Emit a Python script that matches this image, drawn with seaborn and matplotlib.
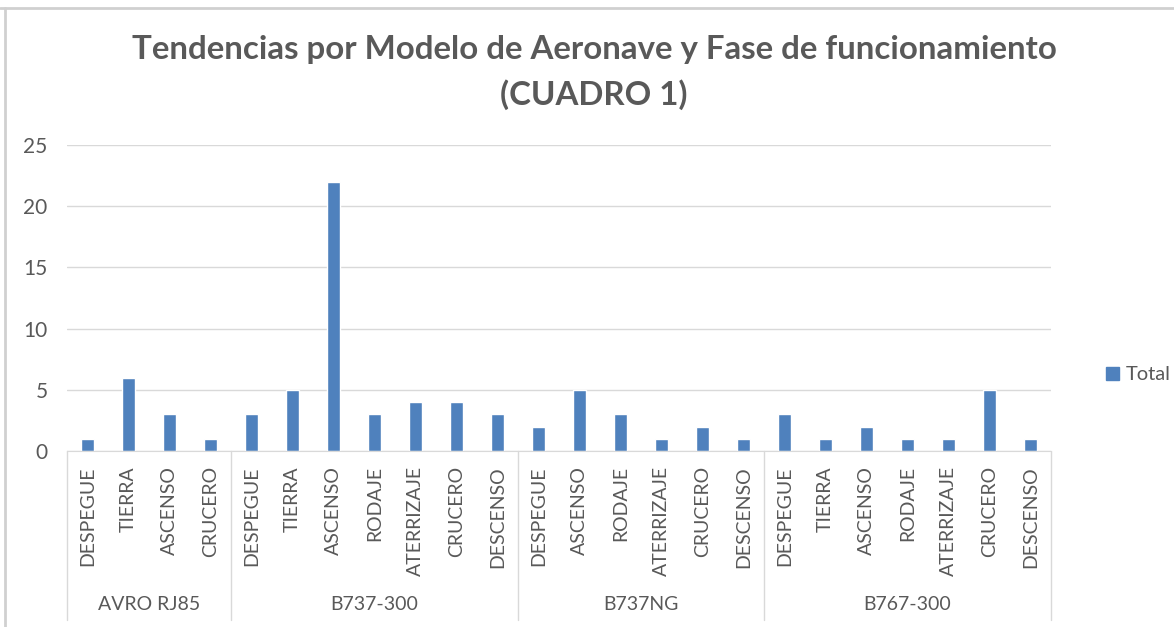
import matplotlib
matplotlib.use("Agg")
import matplotlib.pyplot as plt
from matplotlib.lines import Line2D
from matplotlib.patches import Patch
import seaborn as sns
import pandas as pd

# --- data ---
models = ["AVRO RJ85", "B737-300", "B737NG", "B767-300"]
phases_avro = ["DESPEGUE", "TIERRA", "ASCENSO", "CRUCERO"]
phases_b737_300 = ["DESPEGUE", "TIERRA", "ASCENSO", "RODAJE", "ATERRIZAJE", "CRUCERO", "DESCENSO"]
phases_b737ng = ["DESPEGUE", "ASCENSO", "RODAJE", "ATERRIZAJE", "CRUCERO", "DESCENSO"]
phases_b767 = ["DESPEGUE", "TIERRA", "ASCENSO", "RODAJE", "ATERRIZAJE", "CRUCERO", "DESCENSO"]
totals_avro = [1, 6, 3, 1]
totals_b737_300 = [3, 5, 22, 3, 4, 4, 3]
totals_b737ng = [2, 5, 3, 1, 2, 1]
totals_b767 = [3, 1, 2, 1, 1, 5, 1]
yticks = [0, 5, 10, 15, 20, 25]

phase_lists = [phases_avro, phases_b737_300, phases_b737ng, phases_b767]
total_lists = [totals_avro, totals_b737_300, totals_b737ng, totals_b767]

rows = []
for m, ph, tot in zip(models, phase_lists, total_lists):
    for p, t in zip(ph, tot):
        rows.append({"modelo": m, "fase": p, "key": m + "|" + p, "Total": t})
df = pd.DataFrame(rows)

BLUE = "#4F81BD"
TXT = "#595959"
GRID = "#D9D9D9"
FONT = ["Lato", "DejaVu Sans"]

sns.set_style("white")
plt.rcParams["font.family"] = FONT

W, H = 1174, 627
fig = plt.figure(figsize=(W / 100, H / 100), dpi=100)
x0, x1, y0, y1 = 67, 1051, 451, 145
ax = fig.add_axes([x0 / W, 1 - y0 / H, (x1 - x0) / W, (y0 - y1) / H])

sns.barplot(data=df, x="key", y="Total", color=BLUE, width=0.3,
            saturation=1, ax=ax, label="Total")

ax.set_xlim(-0.5, len(df) - 0.5)
ax.set_ylim(0, 25)
ax.set_yticks(yticks)
ax.yaxis.grid(True, color=GRID, linewidth=1)
ax.set_axisbelow(True)
for s in ["top", "right", "left"]:
    ax.spines[s].set_visible(False)
ax.spines["bottom"].set_color(GRID)
ax.set_xlabel("")
ax.set_ylabel("")
ax.tick_params(axis="y", length=0, pad=14, labelsize=15, labelcolor=TXT)
ax.tick_params(axis="x", length=0, pad=11)
ax.set_xticks(range(len(df)))
ax.set_xticklabels(df["fase"], rotation=90, fontsize=14, color=TXT,
                   va="top", ha="center")

# second level: model groups
trans = ax.get_xaxis_transform()
axh = y0 - y1
start = -0.5
bounds = [start]
for m, ph in zip(models, phase_lists):
    end = start + len(ph)
    ax.text((start + end) / 2, -(605 - y0) / axh, m, transform=trans,
            ha="center", va="center", fontsize=14, color=TXT)
    bounds.append(end)
    start = end
for b in bounds:
    ax.add_line(Line2D([b, b], [0, -(620 - y0) / axh], transform=trans,
                       color=GRID, linewidth=1, clip_on=False))

ax.legend(handles=[Patch(color=BLUE, label="Total")], loc="center left",
          bbox_to_anchor=(1088 / W, 1 - 375 / H), bbox_transform=fig.transFigure,
          frameon=False, handlelength=0.65, handleheight=0.65, handletextpad=0.3,
          prop={"size": 14.5}, labelcolor=TXT)

fig.text(594 / W, 1 - 50 / H, "Tendencias por Modelo de Aeronave y Fase de funcionamiento",
         ha="center", va="center", fontsize=23.8, fontweight="bold", color=TXT)
fig.text(594 / W, 1 - 95 / H, "(CUADRO 1)",
         ha="center", va="center", fontsize=23.8, fontweight="bold", color=TXT)

# outer chart border (top and left edges visible)
fig.add_artist(Line2D([0, 1], [1 - 8 / H, 1 - 8 / H], transform=fig.transFigure,
                      color="#D0D0D0", linewidth=2))
fig.add_artist(Line2D([5 / W, 5 / W], [0, 1 - 8 / H], transform=fig.transFigure,
                      color="#D0D0D0", linewidth=2))

fig.savefig("out.png", dpi=100, facecolor="white")
